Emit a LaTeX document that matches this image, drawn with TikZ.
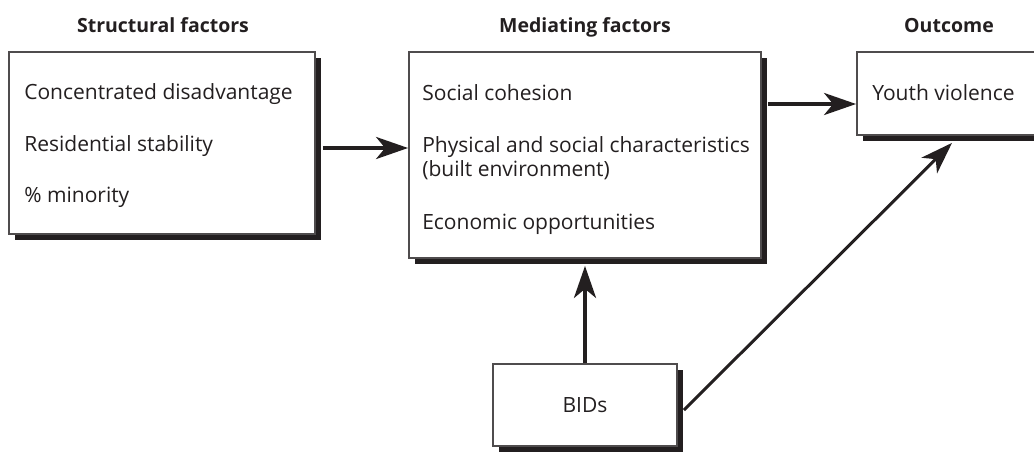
\documentclass[tikz,border=0pt]{standalone}
\usepackage{fontspec}
\setmainfont{Open Sans}
\usetikzlibrary{arrows.meta,shadows}
\definecolor{ink}{HTML}{231F20}
\begin{document}
\begin{tikzpicture}[x=1pt,y=-1pt,
    every node/.style={text=ink,font=\fontsize{21}{24}\selectfont},
    heading/.style={anchor=base,font=\fontsize{19.5}{22}\selectfont\bfseries},
    item/.style={anchor=base west,inner sep=0pt},
    factorbox/.style={draw=ink!80,line width=1.8pt,fill=white,inner sep=0pt,
      drop shadow={shadow xshift=6pt,shadow yshift=-6pt,fill=ink,opacity=1}},
    flow/.style={draw=ink,line width=4pt,-{Stealth[length=32pt,width=22pt,inset=9pt]}}]
  \path[use as bounding box,clip] (0,0) rectangle (1034,451);
  \node[factorbox,minimum width=306pt,minimum height=182pt] (structural) at (162,143) {};
  \node[factorbox,minimum width=352pt,minimum height=206pt] (mediating) at (585,155) {};
  \node[factorbox,minimum width=188pt,minimum height=83pt] (outcome) at (951,93.5) {};
  \node[factorbox,minimum width=184pt,minimum height=82pt] (bids) at (585,405) {BIDs};
  \node[heading] (structuralhead) at (163,32) {Structural factors};
  \node[heading] (mediatinghead) at (585,32) {Mediating factors};
  \node[heading] (outcomehead) at (949,32) {Outcome};
  \node[item] (disadvantage) at ([shift={(16,48)}]structural.north west) {Concentrated disadvantage};
  \node[item] (stability) at ([shift={(16,100)}]structural.north west) {Residential stability};
  \node[item] (minority) at ([shift={(16,151)}]structural.north west) {\% minority};
  \node[item] (cohesion) at ([shift={(14,49)}]mediating.north west) {Social cohesion};
  \node[item] (physical) at ([shift={(14,101)}]mediating.north west) {Physical and social characteristics};
  \node[item] (built) at ([shift={(14,125)}]mediating.north west) {(built environment)};
  \node[item] (economic) at ([shift={(14,178)}]mediating.north west) {Economic opportunities};
  \node[item] (violence) at ([shift={(16,49)}]outcome.north west) {Youth violence};
  \begin{scope}[flow]
    \draw ([shift={(7,5)}]structural.east) -- ([shift={(0,-7)}]mediating.west);
    \draw ([shift={(6,-51)}]mediating.east) -- ([shift={(0,10.5)}]outcome.west);
    \draw (bids.north) -- ([shift={(0,7)}]mediating.south);
    \draw[line width=3pt] ([shift={(6,5)}]bids.east) -- ([shift={(1,7)}]outcome.south);
  \end{scope}
\end{tikzpicture}
\end{document}
